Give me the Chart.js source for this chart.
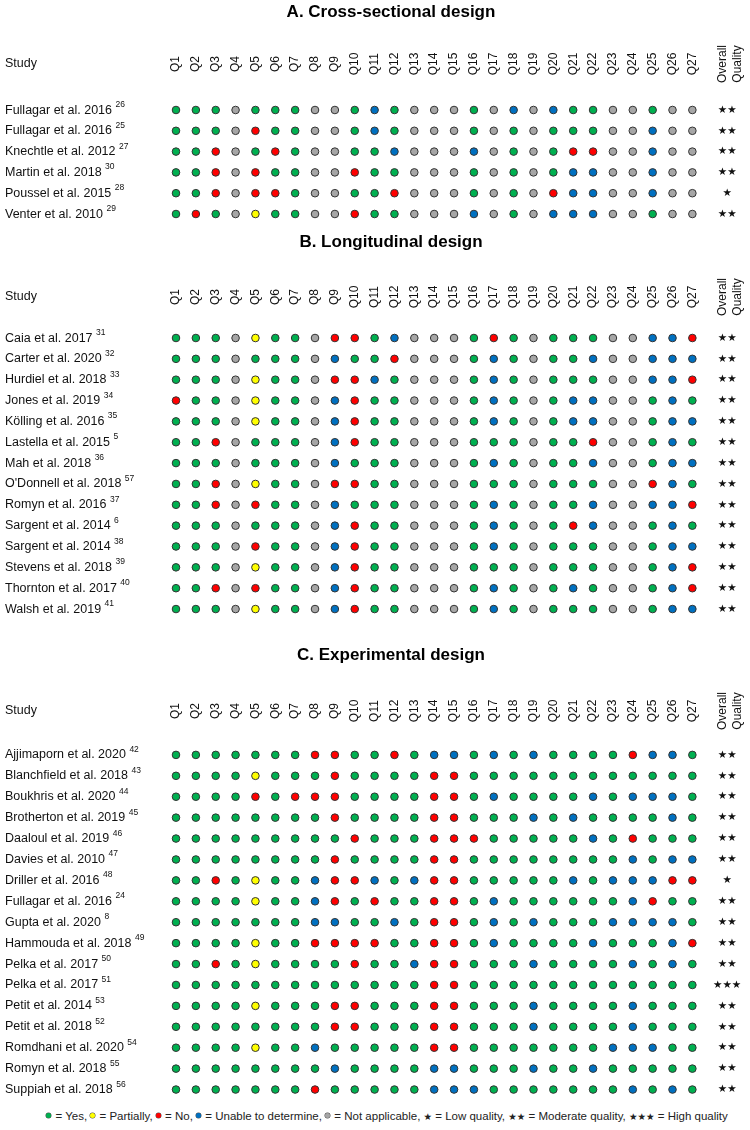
<!DOCTYPE html>
<html>
<head>
<meta charset="utf-8">
<script src="https://cdn.jsdelivr.net/npm/chart.js@4.4.1/dist/chart.umd.min.js"></script>
<style>
  body { margin: 0; background: #fff; }
  #page { position: relative; width: 750px; height: 1130px; overflow: hidden; }
  canvas { position: absolute; left: 0; }
  #legend { position: absolute; left: 24px; width: 726px; top: 1110px; text-align: center;
            font: 11.5px "Liberation Sans", Arial, sans-serif; color: #222; white-space: nowrap; }
  .dot { display: inline-block; width: 5px; height: 5px; border-radius: 50%; vertical-align: middle;
         margin: 0 1px 2px 0; box-shadow: 0 0 0 0.5px #555; }
  .star { font-family: "DejaVu Sans", sans-serif; font-size: 9.5px; }
</style>
</head>
<body>
<div id="page">
  <canvas id="chartA" width="750" height="230" style="top:0"></canvas>
  <canvas id="chartB" width="750" height="413" style="top:230px"></canvas>
  <canvas id="chartC" width="750" height="462" style="top:643px"></canvas>
  <div id="legend"></div>
</div>
<script>
// answer codes: Y = yes, P = partially, N = no, U = unable to determine, X = not applicable
const questions = ['Q1', 'Q2', 'Q3', 'Q4', 'Q5', 'Q6', 'Q7', 'Q8', 'Q9', 'Q10', 'Q11', 'Q12', 'Q13', 'Q14',
    'Q15', 'Q16', 'Q17', 'Q18', 'Q19', 'Q20', 'Q21', 'Q22', 'Q23', 'Q24', 'Q25', 'Q26', 'Q27'];
const answerCodes = ['Y', 'P', 'N', 'U', 'X'];
const answerNames = ['Yes', 'Partially', 'No', 'Unable to determine', 'Not applicable'];
const answerColors = ['#00b050', '#ffff00', '#ff0000', '#0070c0', '#a6a6a6'];
const qualityNames = ['Low quality', 'Moderate quality', 'High quality'];

const crossStudies = ['Fullagar et al. 2016', 'Fullagar et al. 2016', 'Knechtle et al. 2012',
    'Martin et al. 2018', 'Poussel et al. 2015', 'Venter et al. 2010'];
const crossRefs = [26, 25, 27, 30, 28, 29];
const crossAnswers = [
    'YYYXYYYXXYUYXXXYXUXUYYXXYXX',
    'YYYXNYYXXYUYXXXYXYXYYYXXUXX',
    'YYNXYNYXXYYUXXXUXYXYNNXXUXX',
    'YYNXNYYXXNYYXXXYXYXYUUXXUXX',
    'YYNXNNYXXYYNXXXYXYXNUUXXUXX',
    'YNYXPYYXXNYYXXXUXYXUUUXXYXX'
];
const crossStars = [2, 2, 2, 2, 1, 2];

const longStudies = ['Caia et al. 2017', 'Carter et al. 2020', 'Hurdiel et al. 2018', 'Jones et al. 2019',
    'Kölling et al. 2016', 'Lastella et al. 2015', 'Mah et al. 2018', "O'Donnell et al. 2018",
    'Romyn et al. 2016', 'Sargent et al. 2014', 'Sargent et al. 2014', 'Stevens et al. 2018',
    'Thornton et al. 2017', 'Walsh et al. 2019'];
const longRefs = [31, 32, 33, 34, 35, 5, 36, 57, 37, 6, 38, 39, 40, 41];
const longAnswers = [
    'YYYXPYYXNNYUXXXYNYXYYYXXUUN',
    'YYYXYYYXUYYNXXXYUYXYYUXXUUU',
    'YYYXPYYXNNUYXXXYUYXYYYXXUUN',
    'NYYXPYYXUNYYXXXYUYXYUUXXYUY',
    'YYYXPYYXUNYYXXXYUYXYUUXXYUU',
    'YYNXYYYXUNYYXXXYYYXYYNXXYUY',
    'YYYXYYYXUYYYXXXYUYXYYUXXYUU',
    'YYNXPYYXNNYYXXXYYYXYYYXXNUY',
    'YYNXNYYXUYYYXXXYUYXYYUXXUUN',
    'YYYXYYYXUNYYXXXYUYXYNUXXYUY',
    'YYYXNYYXUNYYXXXYUYXYYYXXYUU',
    'YYYXPYYXUNYYXXXYYYXYYYXXYUN',
    'YYNXNYYXUNYYXXXYUYXYUYXXYUN',
    'YYYXPYYXUNYYXXXYUYXYYYXXYUU'
];
const longStars = [2, 2, 2, 2, 2, 2, 2, 2, 2, 2, 2, 2, 2, 2];

const expStudies = ['Ajjimaporn et al. 2020', 'Blanchfield et al. 2018', 'Boukhris et al. 2020',
    'Brotherton et al. 2019', 'Daaloul et al. 2019', 'Davies et al. 2010', 'Driller et al. 2016',
    'Fullagar et al. 2016', 'Gupta et al. 2020', 'Hammouda et al. 2018', 'Pelka et al. 2017',
    'Pelka et al. 2017', 'Petit et al. 2014', 'Petit et al. 2018', 'Romdhani et al. 2020',
    'Romyn et al. 2018', 'Suppiah et al. 2018'];
const expRefs = [42, 43, 44, 45, 46, 47, 48, 24, 8, 49, 50, 51, 53, 52, 54, 55, 56];
const expAnswers = [
    'YYYYYYYNNYYNYUUYUYUYYYYNUUY',
    'YYYYPYYYNYYYYNNYYYYYYYYYYYY',
    'YYYYNYNNNYYYYNNYUYYYYUYUUUY',
    'YYYYYYYYNYYYYNNYYYUYUYYYYUY',
    'YYYYYYYYYNYYYNNNYYYYYUYNYYY',
    'YYYYYYYYNYYYYNNYYYYYYYYUYUU',
    'YYNYPYYUNNUYUNNYYYYYUYUUUNN',
    'YYYYPYYUNYNYYNNYUYYYYYYUNYY',
    'YYYYYYYUUYYUYNNYUYUYYYUUUUY',
    'YYYYPYYNNNNYYNNYUYYYYUYYYUN',
    'YYNYPYYYYNYYUNNYYYUYYYYUYUY',
    'YYYYYYYYYYYYYNNYYYYYYYYYYYY',
    'YYYYPYYYNNYYYNNYYYUYYYYUYYY',
    'YYYYYYYYNNYYYNNYYYUYYYYUYYY',
    'YYYYPYYUYYYYYNNYYYYYYYUUUYY',
    'YYYYYYYYUYYYYUUYYYUYYUYYYYY',
    'YYYYYYYNYYYYYUUUYYYYYYYUYUY'
];
const expStars = [2, 2, 2, 2, 2, 2, 1, 2, 2, 2, 2, 3, 2, 2, 2, 2, 2];

// layout (page pixels)
const FONT = '"Liberation Sans", Arial, sans-serif';
const PAD_LEFT = 32;
const X_MIN = -6.25, X_MAX = 29.65;
const OVERALL_X = 28.75;

const sections = [
    { id: 'chartA', title: 'A. Cross-sectional design', studies: crossStudies, refs: crossRefs,
      answers: crossAnswers, stars: crossStars, top: 0, height: 230, studyY: 64, firstRow: 110, rowH: 20.8 },
    { id: 'chartB', title: 'B. Longitudinal design', studies: longStudies, refs: longRefs,
      answers: longAnswers, stars: longStars, top: 230, height: 413, studyY: 297, firstRow: 338, rowH: 20.85 },
    { id: 'chartC', title: 'C. Experimental design', studies: expStudies, refs: expRefs,
      answers: expAnswers, stars: expStars, top: 643, height: 462, studyY: 711, firstRow: 755, rowH: 21.1 }
];

function tablePlugin(s) {
    return {
        id: 'table' + s.id,
        afterDraw(chart) {
            const ctx = chart.ctx;
            const xs = chart.scales.x;
            const ys = chart.scales.y;
            const hy = s.studyY - s.top;
            ctx.save();
            ctx.fillStyle = '#111';

            // header row
            ctx.font = '12.5px ' + FONT;
            ctx.textAlign = 'left';
            ctx.textBaseline = 'middle';
            ctx.fillText('Study', 5, hy);
            ctx.font = '12px ' + FONT;
            questions.forEach((q, i) => {
                ctx.save();
                ctx.translate(xs.getPixelForValue(i + 1), hy);
                ctx.rotate(-Math.PI / 2);
                ctx.textAlign = 'center';
                ctx.fillText(q, 0, 0);
                ctx.restore();
            });
            ['Overall', 'Quality'].forEach((line, k) => {
                ctx.save();
                ctx.translate(xs.getPixelForValue(OVERALL_X) - 4 + k * 15, hy);
                ctx.rotate(-Math.PI / 2);
                ctx.textAlign = 'center';
                ctx.fillText(line, 0, 0);
                ctx.restore();
            });

            // study names with reference numbers
            s.studies.forEach((name, r) => {
                const y = ys.getPixelForValue(r) + 3.5;
                ctx.textAlign = 'left';
                ctx.textBaseline = 'alphabetic';
                ctx.font = '12.5px ' + FONT;
                ctx.fillText(name, 5, y);
                const w = ctx.measureText(name + ' ').width;
                ctx.font = '8.5px ' + FONT;
                ctx.fillText(String(s.refs[r]), 5 + w, y - 6.5);
            });

            // overall quality stars
            const meta = chart.getDatasetMeta(chart.data.datasets.length - 1);
            ctx.font = '10.5px "DejaVu Sans", sans-serif';
            ctx.textAlign = 'center';
            ctx.textBaseline = 'middle';
            meta.data.forEach((pt, r) => {
                ctx.fillText('★'.repeat(s.stars[r]), pt.x, pt.y);
            });
            ctx.restore();
        }
    };
}

function buildChart(s) {
    const n = s.studies.length;
    const chartTop = s.firstRow - s.top - s.rowH / 2;
    const chartBottom = chartTop + n * s.rowH;
    const titleLine = 17 * 1.2;

    const datasets = answerCodes.map((code, k) => ({
        label: answerNames[k],
        data: [],
        backgroundColor: answerColors[k],
        borderColor: '#333',
        borderWidth: 1,
        pointRadius: 3.8
    }));
    s.answers.forEach((row, r) => {
        row.split('').forEach((c, q) => {
            datasets[answerCodes.indexOf(c)].data.push({ x: q + 1, y: r });
        });
    });
    datasets.push({
        label: 'Overall quality',
        data: s.stars.map((v, r) => ({ x: OVERALL_X, y: r })),
        pointRadius: 0
    });

    new Chart(document.getElementById(s.id), {
        type: 'scatter',
        data: { datasets: datasets },
        options: {
            responsive: false,
            animation: false,
            events: [],
            layout: { padding: { left: PAD_LEFT, right: 0, top: 0, bottom: s.height - chartBottom } },
            plugins: {
                legend: { display: false },
                tooltip: { enabled: false },
                title: {
                    display: true,
                    text: s.title,
                    color: '#000',
                    font: { family: FONT, size: 17, weight: 'bold', lineHeight: 1.2 },
                    padding: { top: 2, bottom: chartTop - titleLine - 2 }
                }
            },
            scales: {
                x: { type: 'linear', min: X_MIN, max: X_MAX, display: false },
                y: { type: 'linear', min: -0.5, max: n - 0.5, reverse: true, display: false }
            }
        },
        plugins: [tablePlugin(s)]
    });
}

sections.forEach(buildChart);

// legend line
const legend = document.getElementById('legend');
const parts = answerNames.map((name, k) =>
    '<span class="dot" style="background:' + answerColors[k] + '"></span> = ' + name);
qualityNames.forEach((name, k) => {
    parts.push('<span class="star">' + '★'.repeat(k + 1) + '</span> = ' + name);
});
legend.innerHTML = parts.join(', ');
</script>
</body>
</html>
